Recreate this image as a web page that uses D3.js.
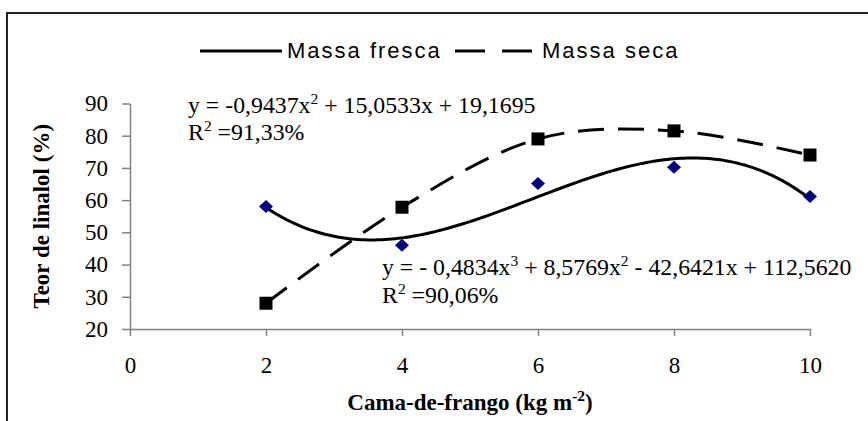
<!DOCTYPE html>
<html>
<head>
<meta charset="utf-8">
<script src="https://cdn.jsdelivr.net/npm/d3@7"></script>
<style>
  html, body { margin: 0; padding: 0; background: #fff; }
  svg { display: block; }
  .tick text { font-family: 'Liberation Serif', 'Times New Roman', serif; font-size: 23px; fill: #000; }
  .axis path, .axis line { stroke: #808080; stroke-width: 1.5; }
  .eq { font-family: 'Liberation Serif', 'Times New Roman', serif; font-size: 23.8px; fill: #000; }
  .title { font-family: 'Liberation Serif', 'Times New Roman', serif; font-size: 23px; font-weight: bold; fill: #000; }
  .legend { font-family: 'Liberation Sans', Arial, sans-serif; font-size: 22px; letter-spacing: 2px; fill: #000; }
</style>
</head>
<body>
<svg id="chart" width="868" height="421"></svg>
<script>
const doses = [2, 4, 6, 8, 10];
const massaFresca = [58, 46, 65.2, 70.2, 61.1];
const massaSeca = [28, 57.8, 79, 81.5, 74];
// cubic trend printed for Massa fresca: c0 + c1 x + c2 x^2 + c3 x^3
const frescaTrend = [112.5620, -42.6421, 8.5769, -0.4834];
const xTicks = [0, 2, 4, 6, 8, 10];
const yTicks = [20, 30, 40, 50, 60, 70, 80, 90];
const seriesNames = ['Massa fresca', 'Massa seca'];

(() => {
  const svg = d3.select('#chart');

  const x = d3.scaleLinear().domain([0, 10]).range([130, 810]);
  const y = d3.scaleLinear().domain([20, 90]).range([329, 103.5]);

  // outer frame, cut off at the right and bottom like the picture
  svg.append('rect')
    .attr('x', 7).attr('y', 13)
    .attr('width', 900).attr('height', 500)
    .attr('fill', 'none')
    .attr('stroke', '#222')
    .attr('stroke-width', 2);

  svg.append('g')
    .attr('class', 'axis')
    .attr('transform', `translate(${x(0)},0)`)
    .call(d3.axisLeft(y).tickValues(yTicks).tickSize(8).tickSizeOuter(0).tickPadding(14));

  svg.append('g')
    .attr('class', 'axis')
    .attr('transform', `translate(0,${y(20)})`)
    .call(d3.axisBottom(x).tickValues(xTicks).tickSize(7).tickSizeOuter(0).tickPadding(21));

  // text with superscripts: parts are [normal, sup] pairs
  function richText(sel, parts) {
    let shift = 0;
    parts.forEach(([str, sup]) => {
      sel.append('tspan').attr('dy', shift).text(str);
      shift = 0;
      if (sup) {
        sel.append('tspan').attr('dy', -9).style('font-size', '15.5px').text(sup);
        shift = 9;
      }
    });
  }

  // axis titles
  svg.append('text')
    .attr('class', 'title')
    .attr('transform', `translate(49,${(y(20) + y(90)) / 2}) rotate(-90)`)
    .attr('text-anchor', 'middle')
    .text('Teor de linalol (%)');

  const xTitle = svg.append('text')
    .attr('class', 'title')
    .attr('x', (x(0) + x(10)) / 2)
    .attr('y', 410)
    .attr('text-anchor', 'middle');
  richText(xTitle, [['Cama-de-frango (kg m', '-2'], [')']]);

  // trendline for Massa fresca from the printed coefficients
  const trendX = d3.range(2, 10.001, 0.05);
  const poly = (v) => frescaTrend.reduce((s, c, i) => s + c * Math.pow(v, i), 0);
  svg.append('path')
    .datum(trendX)
    .attr('fill', 'none')
    .attr('stroke', '#000')
    .attr('stroke-width', 3)
    .attr('d', d3.line().x((d) => x(d)).y((d) => y(poly(d))));

  // smoothed line for Massa seca
  const seca = doses.map((d, i) => ({ x: d, y: massaSeca[i] }));
  svg.append('path')
    .datum(seca)
    .attr('fill', 'none')
    .attr('stroke', '#000')
    .attr('stroke-width', 3)
    .attr('stroke-dasharray', '26,14')
    .attr('d', d3.line().curve(d3.curveCatmullRom.alpha(0)).x((d) => x(d.x)).y((d) => y(d.y)));

  svg.append('g')
    .selectAll('rect')
    .data(seca)
    .join('rect')
    .attr('x', (d) => x(d.x) - 6.5)
    .attr('y', (d) => y(d.y) - 6.5)
    .attr('width', 13)
    .attr('height', 13)
    .attr('fill', '#000');

  const fresca = doses.map((d, i) => ({ x: d, y: massaFresca[i] }));
  svg.append('g')
    .selectAll('path')
    .data(fresca)
    .join('path')
    .attr('d', (d) => {
      const cx = x(d.x);
      const cy = y(d.y);
      return `M${cx},${cy - 6.5}L${cx + 7},${cy}L${cx},${cy + 6.5}L${cx - 7},${cy}Z`;
    })
    .attr('fill', '#000080');

  // equations
  function equation(x0, y0, parts) {
    const t = svg.append('text').attr('class', 'eq').attr('x', x0).attr('y', y0);
    richText(t, parts);
  }

  equation(188, 113, [['y = -0,9437x', '2'], [' + 15,0533x + 19,1695']]);
  equation(188, 140, [['R', '2'], [' =91,33%']]);
  equation(382, 275, [['y = - 0,4834x', '3'], [' + 8,5769x', '2'], [' - 42,6421x + 112,5620']]);
  equation(382, 303, [['R', '2'], [' =90,06%']]);

  // legend
  const legend = svg.append('g');
  legend.append('line')
    .attr('x1', 200).attr('x2', 282).attr('y1', 51).attr('y2', 51)
    .attr('stroke', '#000').attr('stroke-width', 3);
  legend.append('text').attr('class', 'legend').attr('x', 287).attr('y', 58).text(seriesNames[0]);
  [[455, 485], [502, 532]].forEach(([a, b]) => {
    legend.append('line')
      .attr('x1', a).attr('x2', b).attr('y1', 51).attr('y2', 51)
      .attr('stroke', '#000').attr('stroke-width', 3);
  });
  legend.append('text').attr('class', 'legend').attr('x', 542).attr('y', 58).text(seriesNames[1]);
})();
</script>
</body>
</html>
